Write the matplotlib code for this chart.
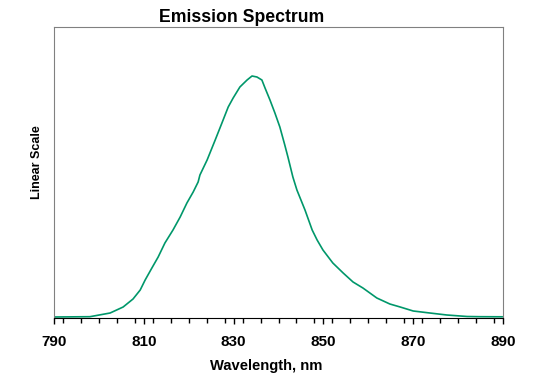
import matplotlib.pyplot as plt
from matplotlib.ticker import MultipleLocator
import numpy as np

plt.rcParams['font.family'] = ['Liberation Sans', 'DejaVu Sans']

# emission spectrum (arbitrary linear units)
wavelength = [790.0, 798.0, 802.5, 805.4, 807.6, 809.2, 810.3, 811.8, 813.2, 814.7,
              816.5, 818.1, 819.6, 821.0, 822.1, 822.5, 824.1, 825.9, 827.4, 828.8,
              829.9, 831.4, 833.0, 834.1, 835.2, 836.3, 837.0, 838.1, 839.2, 840.3,
              841.4, 842.1, 843.2, 844.1, 845.9, 847.5, 848.6, 849.9, 852.1, 854.4,
              856.6, 858.8, 861.9, 864.8, 867.1, 870.0, 873.7, 877.5, 882.0, 884.9,
              889.8]
intensity = [1.0, 1.3, 5, 11, 19, 28, 38, 50, 61, 75,
             88, 101, 115, 126, 136, 143, 158, 178, 195, 211,
             220, 231, 238, 242, 241, 238, 230, 218, 205, 191,
             173, 161, 141, 128, 108, 88, 78, 68, 55, 45,
             36, 30, 20, 14, 11, 7, 5, 3, 1.5, 1.3,
             1.2]
xticks = [790, 810, 830, 850, 870, 890]

fig = plt.figure(figsize=(5.58, 3.87), dpi=100)
ax = fig.add_axes([54 / 558, 1 - 318 / 387, 449 / 558, 291 / 387])

ax.plot(wavelength, intensity, color='#00976A', lw=1.2)
ax.set_xlim(790, 890)
ax.set_ylim(0, 291)

ax.xaxis.set_major_locator(MultipleLocator(20))
ax.xaxis.set_minor_locator(MultipleLocator(4))
ax.set_xticks(xticks)
ax.set_xticklabels([str(t) for t in xticks], fontsize=11, fontweight='bold')
ax.tick_params(axis='x', which='major', length=4, width=1, color='black', pad=8)
ax.tick_params(axis='x', which='minor', length=3.5, width=1, color='black')
ax.set_yticks([])

for side in ['left', 'top', 'right']:
    ax.spines[side].set_color('#808080')
ax.spines['bottom'].set_color('black')

fig.text(242 / 558, 1 - 18 / 387, 'Emission Spectrum', ha='center', va='center',
         fontsize=12.7, fontweight='bold')
fig.text(266 / 558, 1 - 366 / 387, 'Wavelength, nm', ha='center', va='center',
         fontsize=10.6, fontweight='bold')
fig.text(37 / 558, 1 - 162 / 387, 'Linear Scale', ha='center', va='center',
         rotation=90, fontsize=9, fontweight='bold')

fig.savefig('out.png', dpi=100)
